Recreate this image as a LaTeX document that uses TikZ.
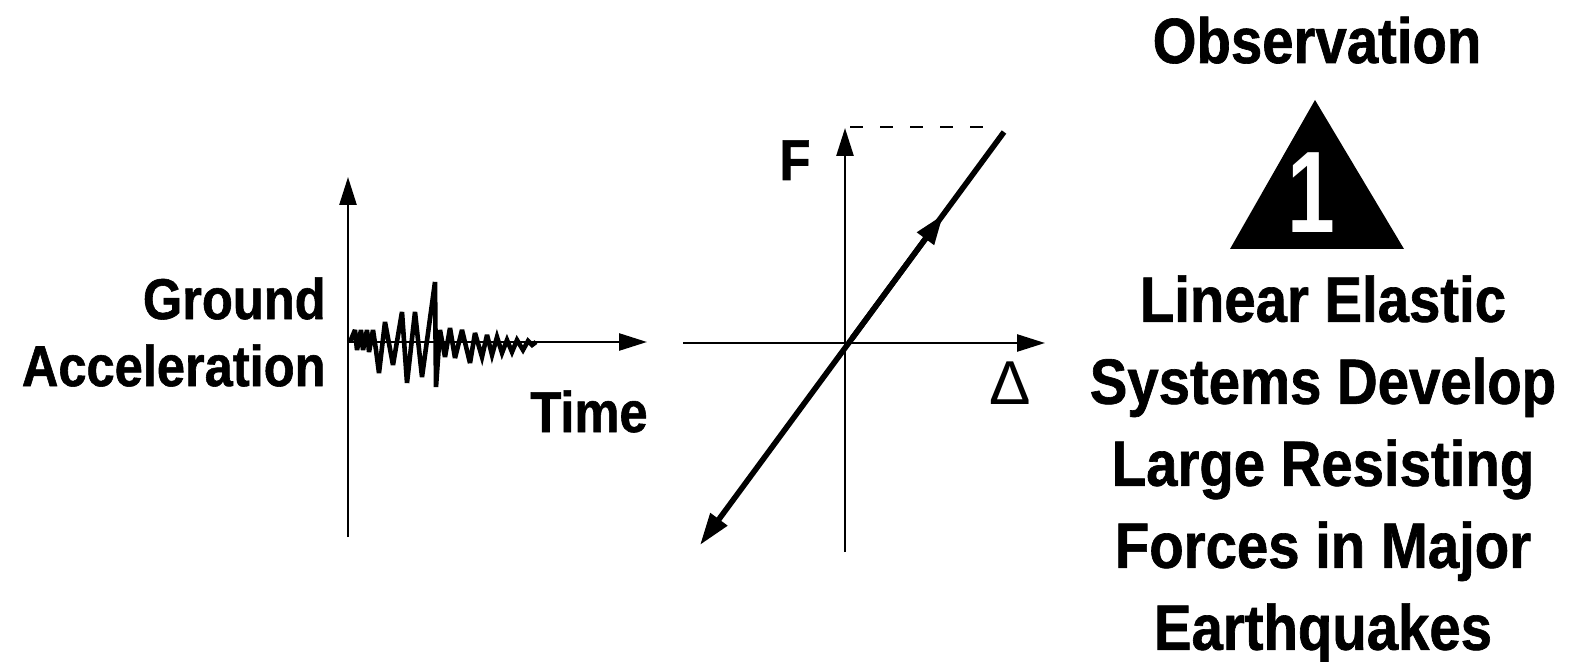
\documentclass[tikz,border=0pt]{standalone}
\usepackage{fontspec}
\setmainfont{Liberation Sans}[FakeStretch=0.88,
    BoldFeatures={FakeStretch=0.88,FakeBold=1.0}]
\newfontfamily\deltafont{Liberation Sans}
\newfontfamily\numfont{Liberation Sans Bold}[FakeStretch=0.74]
\usetikzlibrary{arrows.meta,calc}

\begin{document}
\begin{tikzpicture}[
    x=0.5pt,
    y=-0.5pt,
    axis/.style={
        line width=1.3pt
    },
    axisarrow/.style={
        axis,
        -{Triangle[length=14pt,width=8.5pt]}
    },
    wave/.style={
        line width=2.3pt,
        line join=miter,
        miter limit=4
    },
    load/.style={
        line width=2.8pt
    },
    axislabel/.style={
        font=\fontsize{28.75}{33.5}\selectfont\bfseries,
        inner sep=0pt
    },
    finding/.style={
        font=\fontsize{32}{41}\selectfont\bfseries,
        inner sep=0pt,
        align=center
    }
]
\useasboundingbox (0,0) rectangle (1573,662);

%---------------------------------------------------------------------
% Ground motion record
%---------------------------------------------------------------------

\coordinate (g0) at (348,342);
\coordinate (gtop) at (348,177);
\coordinate (gbot) at (348,537);
\coordinate (gend) at (647,342);

\draw[axisarrow] (gbot) -- (gtop);
\draw[axisarrow] (g0) -- (gend);

\draw[wave] plot coordinates {
    (350,342) (355,330) (357,350) (361,330) (363,350) (367,330)
    (369,352) (373,330) (376,350) (379,373) (385,322) (393,365)
    (402,312) (407,383) (415,312) (422,377) (435,282) (436,387)
    (440,330) (445,357) (450,328) (455,358) (462,330) (470,363)
    (475,333) (482,357) (487,335) (492,355) (497,337) (502,353)
    (507,340) (512,352) (517,340) (523,350) (528,341) (532,345)
    (536,342)
};

\node[axislabel, align=right, anchor=north east] (ground) at (326,277)
    {Ground\\Acceleration};
\node[axislabel, anchor=base] (time) at (589,432) {Time};

%---------------------------------------------------------------------
% Force--displacement response
%---------------------------------------------------------------------

\coordinate (ftop) at (845,128);
\coordinate (fbot) at (845,552);
\coordinate (dleft) at (683,343);
\coordinate (dright) at (1045,343);

\draw[axisarrow] (fbot) -- (ftop);
\draw[axisarrow] (dleft) -- (dright);

\coordinate (ltop) at (1004,132);
\coordinate (llow) at (700,545);
\coordinate (lmid) at ($(ltop)!0.2!(llow)$);

\draw[load, -{Triangle[length=16pt,width=10pt]}] (ltop) -- (llow);
\draw[load, -{Triangle[length=15pt,width=10pt]}]
    ($(ltop)!0.5!(llow)$) -- (lmid);

\coordinate (fmax1) at (850,127);
\coordinate (fmax2) at (990,127);
\draw[axis, dash pattern=on 6.5pt off 8.5pt] (fmax1) -- (fmax2);

\node[axislabel, anchor=base] (force) at (795,180) {F};
\node[font=\fontsize{31}{33}\selectfont\deltafont, inner sep=0pt,
    anchor=base] (delta) at (1010,405) {Δ};

%---------------------------------------------------------------------
% Observation
%---------------------------------------------------------------------

\node[finding, anchor=base] (obs) at (1317,63) {Observation};

\coordinate (t1) at (1315,100);
\coordinate (t2) at (1230,249);
\coordinate (t3) at (1404,249);
\fill (t1) -- (t2) -- (t3) -- cycle;

\node[font=\fontsize{58}{58}\selectfont\numfont, text=white,
    inner sep=0pt, anchor=base] (num) at (1311,233) {1};

\node[finding, anchor=north] (text) at (1323,275)
    {Linear Elastic\\Systems Develop\\Large Resisting\\Forces in Major\\Earthquakes};

\end{tikzpicture}
\end{document}
